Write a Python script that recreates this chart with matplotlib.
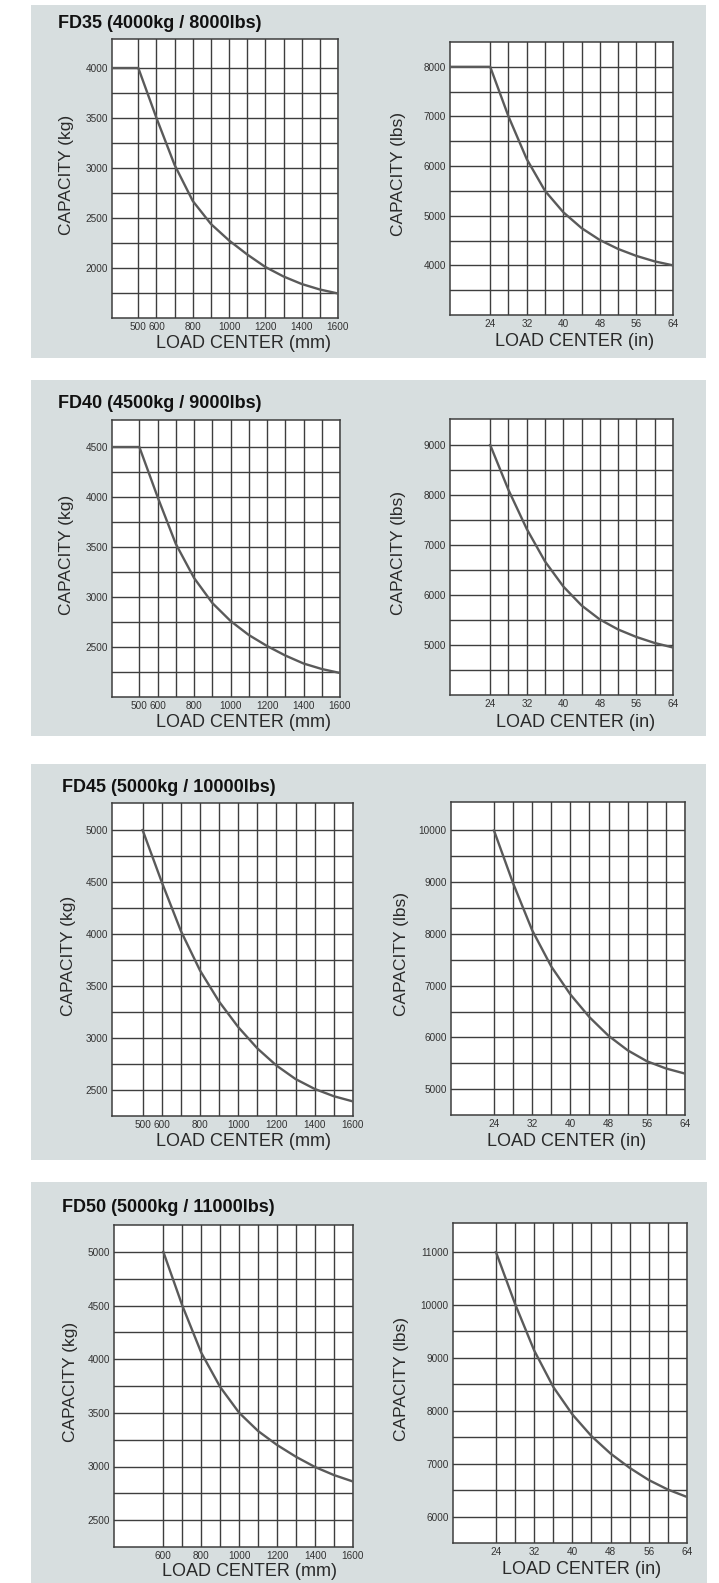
import matplotlib
matplotlib.use("Agg")
import matplotlib.pyplot as plt
from matplotlib.patches import Rectangle

plt.rcParams["font.family"] = ["Liberation Sans", "DejaVu Sans"]

W, H = 719, 1583
BG = "#d7dedf"
GRID = "#3e3e3e"
CURVE = "#5a5a5a"
TEXT = "#2a2a2a"

TITLES = [
    "FD35 (4000kg / 8000lbs)",
    "FD40 (4500kg / 9000lbs)",
    "FD45 (5000kg / 10000lbs)",
    "FD50 (5000kg / 11000lbs)",
]

# load centres (mm / in) and read-off capacities
FD35_MM = [300, 500, 600, 700, 800, 900, 1000, 1100, 1200, 1300, 1400, 1500, 1600]
FD35_KG = [4000, 4000, 3500, 3030, 2670, 2440, 2275, 2135, 2010, 1915, 1840, 1785, 1745]
FD35_IN = [12, 24, 28, 32, 36, 40, 44, 48, 52, 56, 60, 64]
FD35_LBS = [8000, 8000, 7000, 6140, 5500, 5070, 4750, 4510, 4330, 4190, 4080, 4000]

FD40_MM = [300, 500, 600, 700, 800, 900, 1000, 1100, 1200, 1300, 1400, 1500, 1600]
FD40_KG = [4500, 4500, 4000, 3530, 3190, 2940, 2760, 2620, 2510, 2415, 2335, 2280, 2240]
FD40_IN = [24, 28, 32, 36, 40, 44, 48, 52, 56, 60, 64]
FD40_LBS = [9000, 8100, 7320, 6670, 6170, 5790, 5510, 5310, 5160, 5040, 4950]

FD45_MM = [500, 600, 700, 800, 900, 1000, 1100, 1200, 1300, 1400, 1500, 1600]
FD45_KG = [5000, 4500, 4030, 3650, 3350, 3105, 2900, 2735, 2605, 2510, 2440, 2390]
FD45_IN = [24, 28, 32, 36, 40, 44, 48, 52, 56, 60, 64]
FD45_LBS = [10000, 8980, 8070, 7370, 6830, 6390, 6030, 5750, 5540, 5400, 5300]

FD50_MM = [600, 700, 800, 900, 1000, 1100, 1200, 1300, 1400, 1500, 1600]
FD50_KG = [5000, 4500, 4060, 3740, 3500, 3330, 3200, 3090, 2995, 2920, 2860]
FD50_IN = [24, 28, 32, 36, 40, 44, 48, 52, 56, 60, 64]
FD50_LBS = [11000, 10020, 9140, 8450, 7930, 7520, 7190, 6920, 6690, 6510, 6370]

# tick labels and grid lines
MM_TICKS = [500, 600, 800, 1000, 1200, 1400, 1600]
MM_GRID = list(range(500, 1600, 100))
FD50_MM_TICKS = [600, 800, 1000, 1200, 1400, 1600]
FD50_MM_GRID = list(range(600, 1600, 100))
IN_TICKS = [24, 32, 40, 48, 56, 64]
IN_GRID = list(range(24, 64, 4))

KG_TICKS = [
    [2000, 2500, 3000, 3500, 4000],
    [2500, 3000, 3500, 4000, 4500],
    [2500, 3000, 3500, 4000, 4500, 5000],
    [2500, 3000, 3500, 4000, 4500, 5000],
]
LBS_TICKS = [
    [4000, 5000, 6000, 7000, 8000],
    [5000, 6000, 7000, 8000, 9000],
    [5000, 6000, 7000, 8000, 9000, 10000],
    [6000, 7000, 8000, 9000, 10000, 11000],
]
KG_LIMS = [(1500, 4290), (2000, 4770), (2250, 5260), (2250, 5250)]
LBS_LIMS = [(3000, 8500), (4000, 9520), (4500, 10550), (5500, 11550)]
MM_LIMS = [(355, 1600), (350, 1600), (340, 1600), (340, 1600)]
IN_LIMS = [(15.2, 64), (15.2, 64), (15.0, 64), (15.0, 64)]

# layout, in pixels (left, right, top, bottom)
PANELS = [(31, 706, 5, 358), (31, 706, 380, 736), (31, 706, 764, 1160), (31, 707, 1182, 1583)]
LEFT_AXES = [(112, 338, 39, 318), (112, 340, 420, 697), (112, 353, 803, 1116), (114, 353, 1225, 1547)]
RIGHT_AXES = [(450, 673, 42, 315), (450, 673, 419, 695), (451, 685, 802, 1115), (453, 687, 1223, 1543)]
TITLE_POS = [(58, 24), (58, 404), (62, 788), (62, 1208)]
XLAB_LEFT = [243, 243, 243, 250]
XLAB_RIGHT = [575, 576, 567, 582]
YLAB_LEFT = [67, 67, 68, 70]
YLAB_RIGHT = [398, 398, 402, 402]


def fx(px):
    return px / W


def fy(py):
    return 1 - py / H


def make_axes(fig, box):
    x0, x1, y0, y1 = box
    return fig.add_axes([fx(x0), fy(y1), (x1 - x0) / W, (y1 - y0) / H])


def draw_chart(ax, x, y, xlim, ylim, xticks, xgrid, yticks, ystep):
    ax.set_facecolor("white")
    ax.plot(x, y, color=CURVE, lw=1.7, solid_joinstyle="round", zorder=3)
    ax.set_xlim(*xlim)
    ax.set_ylim(*ylim)
    ax.set_xticks(xticks)
    ax.set_xticks(xgrid, minor=True)
    ax.set_yticks(yticks)
    ygrid = []
    v = yticks[0] - ystep
    while v <= yticks[-1]:
        if v > ylim[0]:
            ygrid.append(v)
        v += ystep
    ax.set_yticks(ygrid, minor=True)
    ax.grid(which="both", color=GRID, lw=1.0)
    ax.set_axisbelow(True)
    ax.tick_params(which="both", length=0)
    ax.tick_params(axis="both", labelsize=7.2, colors="#333333", pad=3)
    for s in ax.spines.values():
        s.set_color(GRID)
        s.set_linewidth(1.1)


fig = plt.figure(figsize=(W / 100, H / 100), dpi=100)
fig.patch.set_facecolor("white")

mm_data = [(FD35_MM, FD35_KG), (FD40_MM, FD40_KG), (FD45_MM, FD45_KG), (FD50_MM, FD50_KG)]
in_data = [(FD35_IN, FD35_LBS), (FD40_IN, FD40_LBS), (FD45_IN, FD45_LBS), (FD50_IN, FD50_LBS)]

for i in range(4):
    px0, px1, py0, py1 = PANELS[i]
    fig.add_artist(Rectangle((fx(px0), fy(py1)), (px1 - px0) / W, (py1 - py0) / H,
                             transform=fig.transFigure, facecolor=BG, edgecolor="none", zorder=0))

    fig.text(fx(TITLE_POS[i][0]), fy(TITLE_POS[i][1]), TITLES[i], fontsize=13,
             fontweight="bold", color="#111111", ha="left", va="center")

    # metric chart
    ax1 = make_axes(fig, LEFT_AXES[i])
    mm_ticks = FD50_MM_TICKS if i == 3 else MM_TICKS
    mm_grid = FD50_MM_GRID if i == 3 else MM_GRID
    draw_chart(ax1, mm_data[i][0], mm_data[i][1], MM_LIMS[i], KG_LIMS[i],
               mm_ticks, mm_grid, KG_TICKS[i], 250)
    x0, x1, y0, y1 = LEFT_AXES[i]
    fig.text(fx(XLAB_LEFT[i]), fy(y1 + 25), "LOAD CENTER (mm)", fontsize=13,
             color=TEXT, ha="center", va="center")
    fig.text(fx(YLAB_LEFT[i]), fy((y0 + y1) / 2 - 4), "CAPACITY (kg)", fontsize=12.5,
             color=TEXT, ha="center", va="center", rotation=90)

    # imperial chart
    ax2 = make_axes(fig, RIGHT_AXES[i])
    draw_chart(ax2, in_data[i][0], in_data[i][1], IN_LIMS[i], LBS_LIMS[i],
               IN_TICKS, IN_GRID, LBS_TICKS[i], 500)
    x0, x1, y0, y1 = RIGHT_AXES[i]
    fig.text(fx(XLAB_RIGHT[i]), fy(y1 + 27), "LOAD CENTER (in)", fontsize=13,
             color=TEXT, ha="center", va="center")
    fig.text(fx(YLAB_RIGHT[i]), fy((y0 + y1) / 2 - 4), "CAPACITY (lbs)", fontsize=12.5,
             color=TEXT, ha="center", va="center", rotation=90)

fig.savefig("out.png", dpi=100, facecolor=fig.get_facecolor())
plt.close(fig)
